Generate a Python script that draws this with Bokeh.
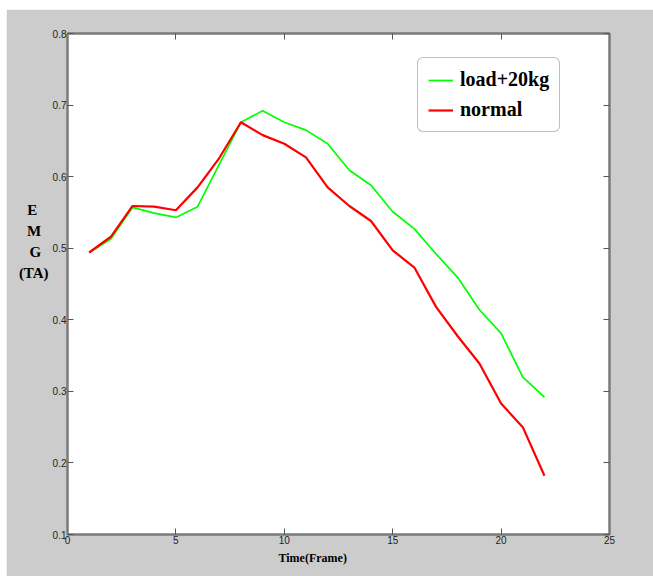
from bokeh.plotting import figure
from bokeh.models import Range1d, LinearAxis, FixedTicker, Legend, LegendItem, Title
from bokeh.embed import file_html
from bokeh.resources import INLINE

# ---- data ----
frames = list(range(1, 23))
load_20kg = [0.494, 0.513, 0.557, 0.549, 0.543, 0.558, 0.617, 0.676, 0.692, 0.676, 0.665,
             0.646, 0.609, 0.588, 0.551, 0.527, 0.492, 0.459, 0.414, 0.381, 0.320, 0.292]
normal = [0.494, 0.516, 0.559, 0.558, 0.553, 0.585, 0.626, 0.676, 0.658, 0.646, 0.627,
          0.585, 0.559, 0.538, 0.497, 0.473, 0.418, 0.377, 0.339, 0.283, 0.250, 0.182]
x_ticks = [0, 5, 10, 15, 20, 25]
y_ticks = [0.1, 0.2, 0.3, 0.4, 0.5, 0.6, 0.7, 0.8]
series_names = ["load+20kg", "normal"]
x_label = "Time(Frame)"
y_label_lines = ["E", "M", "G", "(TA)"]

AX = "#7a7a7a"
NB = "\u00a0"

p = figure(frame_width=542, frame_height=501,
           x_range=Range1d(0, 25), y_range=Range1d(0.1, 0.8),
           output_backend="svg", toolbar_location=None,
           min_border_left=61, min_border_top=24, min_border_right=44, min_border_bottom=42,
           border_fill_color="#cccccc", background_fill_color="white")
p.styles = {"margin-left": "6px", "margin-top": "9px"}
p.grid.visible = False
p.outline_line_color = AX
p.outline_line_width = 2

def style_axis(ax, show_labels):
    ax.axis_line_color = AX
    ax.axis_line_width = 2
    ax.major_tick_in = 6
    ax.major_tick_out = 0
    ax.major_tick_line_color = "#555555"
    ax.major_tick_line_width = 1
    ax.minor_tick_line_color = None
    ax.major_label_text_font = "Liberation Sans"
    ax.major_label_text_font_size = "10px"
    ax.major_label_text_color = "#222222" if show_labels else None

p.xaxis.ticker = FixedTicker(ticks=x_ticks)
p.yaxis.ticker = FixedTicker(ticks=y_ticks)
style_axis(p.xaxis[0], True)
style_axis(p.yaxis[0], True)
p.xaxis.major_label_standoff = 1
p.yaxis.major_label_standoff = 1

# y-axis title: stacked letters (padded so they sit centred over "(TA)"),
# shifted up with trailing empty lines
pads = [3, 2, 2, 0]
yax = p.yaxis[0]
yax.axis_label = "\n".join(t + NB * n for t, n in zip(y_label_lines, pads)) + "\n\n\n\n"
yax.axis_label_orientation = "horizontal"
yax.axis_label_text_font = "Liberation Serif"
yax.axis_label_text_font_style = "bold"
yax.axis_label_text_font_size = "15px"
yax.axis_label_text_line_height = 1.33
yax.axis_label_text_color = "black"
yax.axis_label_standoff = 1
yax.axis_label_text_align = "center"

top_ax = LinearAxis(ticker=FixedTicker(ticks=x_ticks))
right_ax = LinearAxis(ticker=FixedTicker(ticks=y_ticks))
style_axis(top_ax, False)
style_axis(right_ax, False)
p.add_layout(top_ax, "above")
p.add_layout(right_ax, "right")

r1 = p.line(frames, load_20kg, line_color="#00ff00", line_width=1.7)
r2 = p.line(frames, normal, line_color="#ff0000", line_width=2.2)

legend = Legend(items=[LegendItem(label=series_names[0], renderers=[r1]),
                       LegendItem(label=series_names[1], renderers=[r2])],
                location=(350, 402))
legend.label_text_font = "Liberation Serif"
legend.label_text_font_style = "bold"
legend.label_text_font_size = "20px"
legend.label_text_color = "black"
legend.glyph_width = 25
legend.glyph_height = 20
legend.label_standoff = 7
legend.padding = 10
legend.spacing = 7
legend.margin = 0
legend.border_line_color = "#808080"
legend.border_line_width = 1
legend.background_fill_color = "white"
legend.background_fill_alpha = 1
try:
    legend.border_radius = 6
except Exception:
    pass
p.add_layout(legend)

# x-axis title, placed left of centre as in the reference
p.add_layout(Title(text=x_label, align="left", offset=211, standoff=4,
                   text_font="Liberation Serif", text_font_style="bold",
                   text_font_size="12px", text_color="black"), "below")

open("out.html", "w").write(file_html(p, INLINE))
